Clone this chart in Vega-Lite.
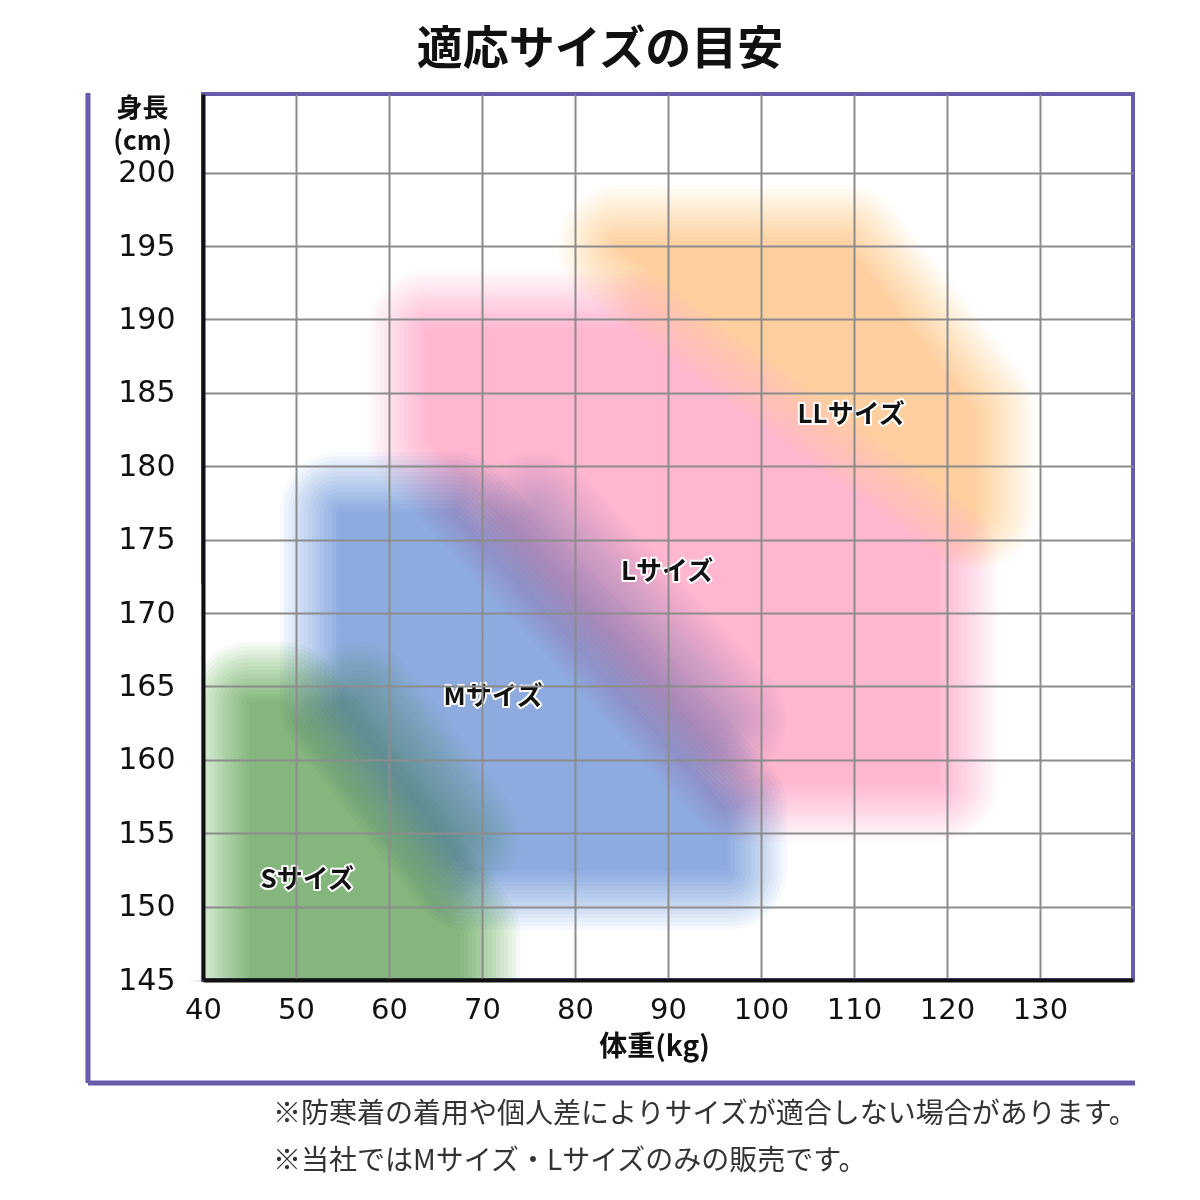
{
  "$schema": "https://vega.github.io/schema/vega-lite/v6.json",
  "autosize": {"type": "none"},
  "width": 930,
  "height": 886,
  "padding": {"left": 203, "top": 94, "right": 67, "bottom": 220},
  "background": "white",
  "config": {"view": {"stroke": "#675CAC", "strokeWidth": 4}, "font": "Noto Sans CJK JP"},
  "title": {"text": "適応サイズの目安", "font": "Noto Sans CJK JP", "fontSize": 46, "fontWeight": "bold", "color": "#111111", "anchor": "middle", "frame": "group", "dx": -68, "offset": -30, "baseline": "bottom"},
  "datasets": {
    "blobs": [
      {"size": "S", "w": 45.05, "h": 163.94, "h2": 145},
      {"size": "S", "w": 48.59, "h": 163.94, "h2": 145},
      {"size": "S", "w": 67.63, "h": 148.17, "h2": 145},
      {"size": "S2", "w": 56.71, "h": 163.94, "h2": 163.94},
      {"size": "S2", "w": 67.63, "h": 154.88, "h2": 154.88},
      {"size": "M", "w": 54.73, "h": 176.88, "h2": 163.90},
      {"size": "M", "w": 67.00, "h": 176.88, "h2": 153.73},
      {"size": "M", "w": 68.49, "h": 175.85, "h2": 152.49},
      {"size": "M", "w": 96.34, "h": 156.70, "h2": 152.49},
      {"size": "M2", "w": 75.76, "h": 176.88, "h2": 176.88},
      {"size": "M2", "w": 96.34, "h": 162.72, "h2": 162.72},
      {"size": "L", "w": 64.19, "h": 189.28, "h2": 181.83},
      {"size": "L", "w": 85.84, "h": 189.28, "h2": 166.93},
      {"size": "L", "w": 98.13, "h": 183.56, "h2": 158.49},
      {"size": "L", "w": 119.03, "h": 173.82, "h2": 158.49},
      {"size": "LL", "w": 84.62, "h": 195.07, "h2": 194.93},
      {"size": "LL", "w": 109.08, "h": 195.07, "h2": 183.54},
      {"size": "LL", "w": 123.01, "h": 183.81, "h2": 177.05}
    ],
    "labels": [
      {"label": "LLサイズ", "w": 109.7, "h": 183.5},
      {"label": "Lサイズ", "w": 89.9, "h": 172.8},
      {"label": "Mサイズ", "w": 71.2, "h": 164.3},
      {"label": "Sサイズ", "w": 51.2, "h": 151.8}
    ]
  },
  "layer": [
    {
      "data": {"name": "blobs"},
      "encoding": {
        "x": {"field": "w", "type": "quantitative", "scale": {"domain": [40, 140], "nice": false, "zero": false},
          "axis": {"values": [40, 50, 60, 70, 80, 90, 100, 110, 120, 130], "grid": true, "gridColor": "#8c8c8c", "gridWidth": 2, "ticks": false, "domainColor": "#111111", "domainWidth": 4, "labelFont": "DejaVu Sans", "labelFontSize": 29, "labelColor": "#111111", "labelPadding": 15, "labelFlush": false, "labelOverlap": false, "title": "体重(kg)", "titleFont": "Noto Sans CJK JP", "titleFontSize": 28, "titleFontWeight": "bold", "titleColor": "#111111", "titleX": 451, "titleY": 53, "titleAlign": "center", "titleBaseline": "top", "zindex": 1}},
        "y": {"field": "h", "type": "quantitative", "stack": null, "scale": {"domain": [145, 205.36], "nice": false, "zero": false},
          "axis": {"values": [145, 150, 155, 160, 165, 170, 175, 180, 185, 190, 195, 200], "grid": true, "gridColor": "#8c8c8c", "gridWidth": 2, "ticks": false, "domainColor": "#111111", "domainWidth": 4, "labelFont": "DejaVu Sans", "labelFontSize": 30, "labelColor": "#111111", "labelPadding": 28, "labelFlush": false, "labelOverlap": false, "title": ["身長", "(cm)"], "titleFont": "Noto Sans CJK JP", "titleFontSize": 26, "titleFontWeight": "bold", "titleColor": "#111111", "titleAngle": 0, "titleAlign": "center", "titleBaseline": "top", "titleX": -61, "titleY": 1, "titleLineHeight": 33, "zindex": 1}},
        "y2": {"field": "h2"},
        "fill": {"field": "size", "type": "nominal", "scale": {"domain": ["S", "S2", "M", "M2", "L", "LL"], "range": ["#D6EBD3", "#EAF5E9", "#D9E6F5", "#EEF4FA", "#FDEBF4", "#FEF3E2"]}, "legend": null},
        "stroke": {"field": "size", "type": "nominal", "scale": {"domain": ["S", "S2", "M", "M2", "L", "LL"], "range": ["#D6EBD3", "#EAF5E9", "#D9E6F5", "#EEF4FA", "#FDEBF4", "#FEF3E2"]}, "legend": null}
      },
      "layer": [
        {"mark": {"type": "area", "blend": "multiply", "opacity": 0.25, "strokeJoin": "round", "strokeCap": "round", "strokeWidth": 120}},
        {"mark": {"type": "area", "blend": "multiply", "opacity": 0.25, "strokeJoin": "round", "strokeCap": "round", "strokeWidth": 112}},
        {"mark": {"type": "area", "blend": "multiply", "opacity": 0.25, "strokeJoin": "round", "strokeCap": "round", "strokeWidth": 104}},
        {"mark": {"type": "area", "blend": "multiply", "opacity": 0.25, "strokeJoin": "round", "strokeCap": "round", "strokeWidth": 96}},
        {"mark": {"type": "area", "blend": "multiply", "opacity": 0.25, "strokeJoin": "round", "strokeCap": "round", "strokeWidth": 88}},
        {"mark": {"type": "area", "blend": "multiply", "opacity": 0.25, "strokeJoin": "round", "strokeCap": "round", "strokeWidth": 80}},
        {"mark": {"type": "area", "blend": "multiply", "opacity": 0.25, "strokeJoin": "round", "strokeCap": "round", "strokeWidth": 72}},
        {"mark": {"type": "area", "blend": "multiply", "opacity": 0.25, "strokeJoin": "round", "strokeCap": "round", "strokeWidth": 64}},
        {"mark": {"type": "area", "blend": "multiply", "opacity": 0.25, "strokeJoin": "round", "strokeCap": "round", "strokeWidth": 56}},
        {"mark": {"type": "area", "blend": "multiply", "opacity": 0.25, "strokeJoin": "round", "strokeCap": "round", "strokeWidth": 48}},
        {"mark": {"type": "area", "blend": "multiply", "opacity": 0.25, "strokeJoin": "round", "strokeCap": "round", "strokeWidth": 40}},
        {"mark": {"type": "area", "blend": "multiply", "opacity": 0.25, "strokeJoin": "round", "strokeCap": "round", "strokeWidth": 32}},
        {"mark": {"type": "area", "blend": "multiply", "opacity": 0.25, "strokeJoin": "round", "strokeCap": "round", "strokeWidth": 24}},
        {"mark": {"type": "area", "blend": "multiply", "opacity": 0.25, "strokeJoin": "round", "strokeCap": "round", "strokeWidth": 16}},
        {"mark": {"type": "area", "blend": "multiply", "opacity": 0.25, "strokeJoin": "round", "strokeCap": "round", "strokeWidth": 8}},
        {"mark": {"type": "area", "blend": "multiply", "opacity": 0.25, "strokeJoin": "round", "strokeCap": "round", "strokeWidth": 1}}
      ]
    },
    {
      "data": {"values": [{}]},
      "mark": {"type": "rect", "fill": "white", "stroke": null},
      "encoding": {"x": {"datum": 28}, "x2": {"datum": 39.85}, "y": {"datum": 145}, "y2": {"datum": 172}}
    },
    {
      "data": {"values": [{}]},
      "mark": {"type": "rect", "fill": "white", "stroke": null},
      "encoding": {"x": {"datum": 28}, "x2": {"datum": 141}, "y": {"datum": 144.86}, "y2": {"datum": 138.6}}
    },
    {
      "data": {"name": "labels"},
      "encoding": {"x": {"field": "w", "type": "quantitative"}, "y": {"field": "h", "type": "quantitative"}, "text": {"field": "label"}},
      "layer": [
        {"mark": {"type": "text", "font": "Noto Sans CJK JP", "fontSize": 26, "fontWeight": "bold", "align": "center", "baseline": "middle", "fill": "white", "stroke": "white", "strokeWidth": 4, "strokeJoin": "round"}},
        {"mark": {"type": "text", "font": "Noto Sans CJK JP", "fontSize": 26, "fontWeight": "bold", "align": "center", "baseline": "middle", "fill": "#111111"}}
      ]
    },
    {
      "data": {"values": [{}]},
      "mark": {"type": "rule", "color": "#675CAC", "strokeWidth": 5},
      "encoding": {"x": {"datum": 27.63}, "y": {"datum": 205.43}, "y2": {"datum": 137.98}}
    },
    {
      "data": {"values": [{}]},
      "mark": {"type": "rule", "color": "#675CAC", "strokeWidth": 5},
      "encoding": {"x": {"datum": 27.63}, "x2": {"datum": 140.22}, "y": {"datum": 137.98}}
    },
    {
      "data": {"values": [{}]},
      "mark": {"type": "text", "text": "※防寒着の着用や個人差によりサイズが適合しない場合があります。", "font": "Noto Sans CJK JP", "fontSize": 28, "align": "left", "baseline": "middle", "color": "#333333"},
      "encoding": {"x": {"datum": 47.53}, "y": {"datum": 135.8}}
    },
    {
      "data": {"values": [{}]},
      "mark": {"type": "text", "text": "※当社ではMサイズ・Lサイズのみの販売です。", "font": "Noto Sans CJK JP", "fontSize": 28, "align": "left", "baseline": "middle", "color": "#333333"},
      "encoding": {"x": {"datum": 47.53}, "y": {"datum": 132.6}}
    }
  ]
}
